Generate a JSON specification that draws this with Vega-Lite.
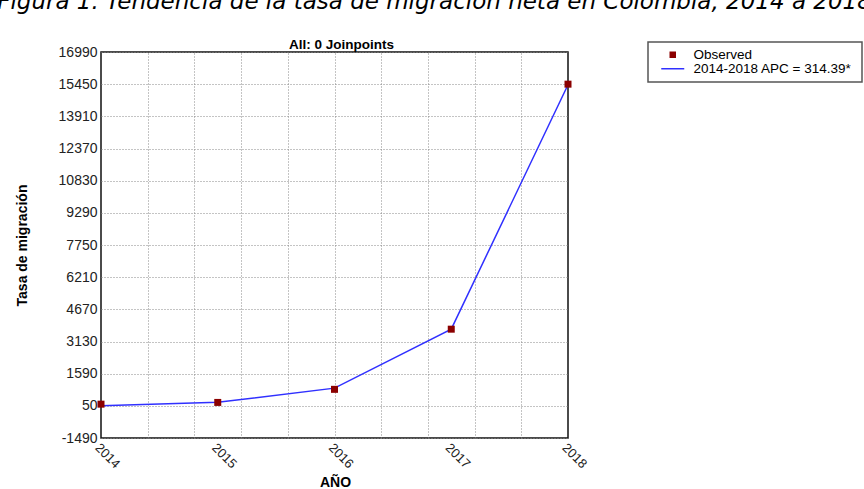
{
  "$schema": "https://vega.github.io/schema/vega-lite/v6.json",
  "width": 467,
  "height": 386,
  "autosize": {"type": "none"},
  "padding": {"left": 101, "top": 52, "right": 296, "bottom": 51},
  "background": "white",
  "config": {"view": {"stroke": "#111111", "strokeWidth": 1.5}, "font": "Liberation Sans"},
  "title": {"text": "Figura 1. Tendencia de la tasa de migración neta en Colombia, 2014 a 2018", "anchor": "middle", "frame": "group", "dx": 100, "offset": 5, "baseline": "alphabetic", "font": "DejaVu Sans", "fontStyle": "italic", "fontWeight": "normal", "fontSize": 23, "color": "#000000", "limit": 3000},
  "datasets": {
    "observed": [
      {"year": 2014, "rate": 130, "series": "Observed"},
      {"year": 2015, "rate": 213, "series": "Observed"},
      {"year": 2016, "rate": 840, "series": "Observed"},
      {"year": 2017, "rate": 3720, "series": "Observed"},
      {"year": 2018, "rate": 15450, "series": "Observed"}
    ],
    "fitted": [
      {"year": 2014, "rate": 52, "series": "2014-2018 APC  = 314.39*"},
      {"year": 2015, "rate": 217, "series": "2014-2018 APC  = 314.39*"},
      {"year": 2016, "rate": 898, "series": "2014-2018 APC  = 314.39*"},
      {"year": 2017, "rate": 3721, "series": "2014-2018 APC  = 314.39*"},
      {"year": 2018, "rate": 15420, "series": "2014-2018 APC  = 314.39*"}
    ]
  },
  "resolve": {"axis": {"x": "independent"}},
  "layer": [
    {
      "data": {"name": "fitted"},
      "mark": {"type": "line", "strokeWidth": 1.5},
      "encoding": {
        "x": {
          "field": "year", "type": "quantitative",
          "scale": {"domain": [2014, 2018], "nice": false, "zero": false},
          "axis": {
            "orient": "bottom", "values": [2014, 2015, 2016, 2017, 2018], "format": "d", "tickCount": 20,
            "grid": false, "domain": false, "ticks": false, "labelOverlap": false,
            "labelAngle": 45, "labelAlign": "left", "labelBaseline": "top", "labelPadding": 3,
            "labelFont": "Liberation Sans", "labelFontSize": 13, "labelColor": "#222222",
            "title": "AÑO", "titleFont": "Liberation Sans", "titleFontSize": 14, "titleFontWeight": "bold",
            "titleColor": "#000000", "titleX": 234, "titleY": 48, "titleAlign": "center", "titleBaseline": "alphabetic"
          }
        },
        "y": {
          "field": "rate", "type": "quantitative",
          "scale": {"domain": [-1490, 16990], "nice": false, "zero": false},
          "axis": {
            "values": [-1490, 50, 1590, 3130, 4670, 6210, 7750, 9290, 10830, 12370, 13910, 15450, 16990],
            "tickCount": 30,
            "labelExpr": "'' + datum.value", "labelOverlap": false,
            "grid": true, "gridDash": [1, 2], "gridColor": "#888888", "gridWidth": 1,
            "domain": false, "ticks": false, "labelPadding": 4,
            "labelFont": "Liberation Sans", "labelFontSize": 14, "labelColor": "#222222",
            "title": "Tasa de migración", "titleFont": "Liberation Sans", "titleFontSize": 14,
            "titleFontWeight": "bold", "titleColor": "#000000", "titlePadding": 29
          }
        },
        "color": {
          "field": "series", "type": "nominal",
          "scale": {"domain": ["Observed", "2014-2018 APC  = 314.39*"], "range": ["#8B0000", "#3030FF"]},
          "legend": {
            "orient": "none", "legendX": 547, "legendY": -10, "title": null,
            "strokeColor": "#555555", "fillColor": "white", "padding": 6,
            "labelFont": "Liberation Sans", "labelFontSize": 13.5, "labelColor": "#000000",
            "labelOffset": 14, "symbolOffset": 12, "rowPadding": -5, "labelLimit": 400,
            "encode": {
              "legend": {"update": {"strokeWidth": {"value": 1.5}}},
              "symbols": {"update": {
                "shape": {"signal": "datum.value === 'Observed' ? 'square' : 'M-4.6,0L4.6,0'"},
                "size": {"value": 25},
                "fill": {"signal": "datum.value === 'Observed' ? '#8B0000' : 'transparent'"},
                "stroke": {"signal": "datum.value === 'Observed' ? '#8B0000' : '#1010FF'"},
                "strokeWidth": {"value": 1.5},
                "opacity": {"value": 1}
              }}
            }
          }
        }
      }
    },
    {
      "data": {"name": "observed"},
      "mark": {"type": "square", "size": 49, "opacity": 1},
      "encoding": {
        "x": {
          "field": "year", "type": "quantitative",
          "scale": {"domain": [2014, 2018], "nice": false, "zero": false},
          "axis": {
            "orient": "top",
            "values": [2014.4, 2014.8, 2015.2, 2015.6, 2016, 2016.4, 2016.8, 2017.2, 2017.6],
            "tickCount": 20,
            "grid": true, "gridDash": [1, 2], "gridColor": "#888888", "gridWidth": 1,
            "labels": false, "ticks": false, "domain": false,
            "title": "All: 0 Joinpoints",
            "titleFont": "Liberation Sans", "titleFontWeight": "bold",
            "titleFontSize": 13.5, "titleColor": "#000000", "titleX": 240, "titleY": -4,
            "titleAlign": "center", "titleBaseline": "alphabetic"
          }
        },
        "y": {"field": "rate", "type": "quantitative"},
        "color": {"field": "series", "type": "nominal", "legend": null}
      }
    }
  ]
}
